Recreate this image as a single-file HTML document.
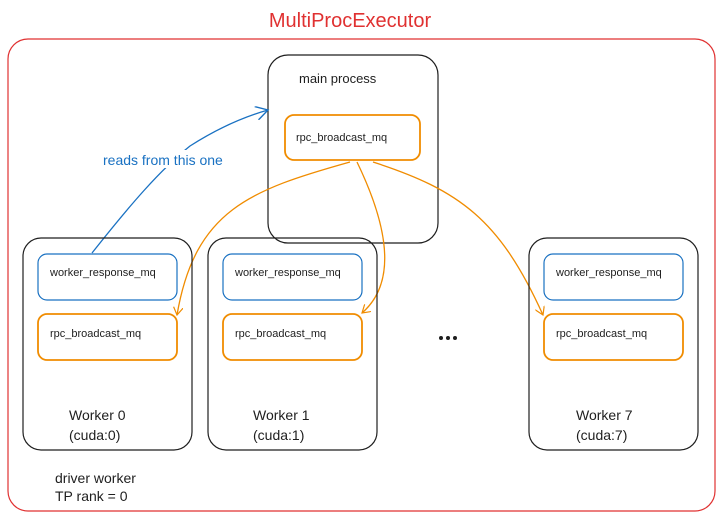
<!DOCTYPE html>
<html><head><meta charset="utf-8"><style>
body{margin:0;background:#fff;width:720px;height:521px;overflow:hidden}
svg text{font-family:"Liberation Sans",sans-serif}
</style></head><body>
<svg width="720" height="521" viewBox="0 0 720 521" xmlns="http://www.w3.org/2000/svg">
<defs>
<marker id="ao" markerWidth="10" markerHeight="10" refX="8" refY="5" orient="auto" markerUnits="userSpaceOnUse"><path d="M0,0 L8,5 L0,10" fill="none" stroke="#f08c00" stroke-width="1.2"/></marker>
<marker id="ab" markerWidth="14" markerHeight="14" refX="12" refY="7" orient="auto" markerUnits="userSpaceOnUse"><path d="M0,0 L12,7 L0,14" fill="none" stroke="#1971c2" stroke-width="1.4"/></marker>
</defs>
<text x="350" y="27" font-size="20" fill="#e03131" text-anchor="middle">MultiProcExecutor</text>
<rect x="8" y="39" width="707" height="472" rx="20" fill="none" stroke="#e03131" stroke-width="1.2"/>
<rect x="268" y="55" width="170" height="188" rx="20" fill="none" stroke="#1e1e1e" stroke-width="1.2"/>
<text x="299" y="83" font-size="13" fill="#1e1e1e">main process</text>
<rect x="285" y="115" width="135" height="45" rx="9" fill="none" stroke="#f08c00" stroke-width="1.8"/>
<text x="296" y="141" font-size="11" fill="#1e1e1e">rpc_broadcast_mq</text>
<path d="M92,253 C130,205 160,170 190,146 C215,130 240,118 268,110" fill="none" stroke="#1971c2" stroke-width="1.3" marker-end="url(#ab)"/>
<rect x="100" y="150" width="150" height="18" fill="#fff"/>
<text x="103" y="165" font-size="14" fill="#1971c2">reads from this one</text>
<g fill="none" stroke-width="1.3">
<path d="M350,162 C250,190 195,210 177,315" stroke="#f08c00" marker-end="url(#ao)"/>
<path d="M357,162 C385,220 400,280 362,313" stroke="#f08c00" marker-end="url(#ao)"/>
<path d="M373,162 C460,190 500,220 543,315" stroke="#f08c00" marker-end="url(#ao)"/>
</g>
<g font-size="11" fill="#1e1e1e">
<rect x="23" y="238" width="169" height="212" rx="18" fill="none" stroke="#1e1e1e" stroke-width="1.2"/>
<rect x="38" y="254" width="139" height="46" rx="9" fill="none" stroke="#1971c2" stroke-width="1.2"/>
<text x="50" y="276">worker_response_mq</text>
<rect x="38" y="314" width="139" height="46" rx="9" fill="none" stroke="#f08c00" stroke-width="1.8"/>
<text x="50" y="337">rpc_broadcast_mq</text>
<text x="69" y="420" font-size="14">Worker 0</text>
<text x="69" y="440" font-size="14">(cuda:0)</text>

<rect x="208" y="238" width="169" height="212" rx="18" fill="none" stroke="#1e1e1e" stroke-width="1.2"/>
<rect x="223" y="254" width="139" height="46" rx="9" fill="none" stroke="#1971c2" stroke-width="1.2"/>
<text x="235" y="276">worker_response_mq</text>
<rect x="223" y="314" width="139" height="46" rx="9" fill="none" stroke="#f08c00" stroke-width="1.8"/>
<text x="235" y="337">rpc_broadcast_mq</text>
<text x="253" y="420" font-size="14">Worker 1</text>
<text x="253" y="440" font-size="14">(cuda:1)</text>

<rect x="529" y="238" width="169" height="212" rx="18" fill="none" stroke="#1e1e1e" stroke-width="1.2"/>
<rect x="544" y="254" width="139" height="46" rx="9" fill="none" stroke="#1971c2" stroke-width="1.2"/>
<text x="556" y="276">worker_response_mq</text>
<rect x="544" y="314" width="139" height="46" rx="9" fill="none" stroke="#f08c00" stroke-width="1.8"/>
<text x="556" y="337">rpc_broadcast_mq</text>
<text x="576" y="420" font-size="14">Worker 7</text>
<text x="576" y="440" font-size="14">(cuda:7)</text>
</g>
<g fill="#1e1e1e"><circle cx="441" cy="338" r="2"/><circle cx="448" cy="338" r="2"/><circle cx="455" cy="338" r="2"/></g>
<text x="55" y="483" font-size="14" fill="#1e1e1e">driver worker</text>
<text x="55" y="501" font-size="14" fill="#1e1e1e">TP rank = 0</text>
</svg>
</body></html>
